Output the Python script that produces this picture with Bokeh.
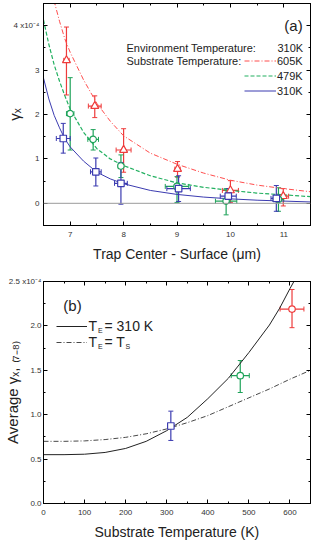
import numpy as np
from bokeh.plotting import figure
from bokeh.layouts import column
from bokeh.models import (ColumnDataSource, Whisker, TeeHead, Span, Label, Legend, LegendItem,
                          LinearAxis, FixedTicker, Range1d, PrintfTickFormatter)
from bokeh.embed import file_html
from bokeh.resources import INLINE

# ---------------- data: panel (a)  (gamma_x in units of 1e-4) ----------------
dist_605 = [6.93, 7.46, 8.00, 9.01, 10.00, 10.99]
gx_605 = [3.22, 2.19, 1.20, 0.77, 0.29, 0.16]
gx_605_hi = [3.97, 2.42, 1.68, 0.94, 0.51, 0.33]
gx_605_lo = [2.44, 1.93, 0.70, 0.59, 0.02, -0.06]
dx_605 = [0.05, 0.12, 0.14, 0.05, 0.15, 0.10]

dist_479 = [7.00, 7.43, 7.95, 9.00, 9.92, 10.90]
gx_479 = [2.02, 1.44, 0.84, 0.38, 0.05, 0.09]
gx_479_hi = [2.83, 1.66, 1.09, 0.60, 0.33, 0.35]
gx_479_lo = [1.20, 1.20, 0.58, 0.02, -0.26, -0.18]
dx_479 = [0.07, 0.10, 0.05, 0.22, 0.20, 0.10]

dist_310 = [6.87, 7.48, 7.95, 9.03, 9.96, 10.86]
gx_310 = [1.46, 0.71, 0.45, 0.33, 0.16, 0.11]
gx_310_hi = [1.80, 1.02, 0.92, 0.62, 0.33, 0.40]
gx_310_lo = [1.13, 0.39, -0.02, 0.04, 0.01, -0.18]
dx_310 = [0.13, 0.10, 0.12, 0.22, 0.15, 0.10]

dist_fit = [6.5, 6.6, 6.7, 6.8, 6.9, 7.0, 7.25, 7.5, 7.75, 8.0, 8.5, 9.0, 9.5, 10.0, 10.5, 11.0, 11.5]
fit_605 = [5.9, 5.1, 4.55, 4.1, 3.7, 3.4, 2.78, 2.25, 1.85, 1.52, 1.13, 0.88, 0.68, 0.52, 0.41, 0.33, 0.26]
fit_479 = [4.13, 3.58, 3.12, 2.75, 2.42, 2.12, 1.6, 1.23, 1.0, 0.85, 0.62, 0.46, 0.36, 0.29, 0.23, 0.19, 0.15]
fit_310 = [2.82, 2.35, 1.98, 1.70, 1.45, 1.27, 0.95, 0.70, 0.55, 0.44, 0.29, 0.20, 0.14, 0.10, 0.07, 0.05, 0.03]

a_xticks = [7, 8, 9, 10, 11]
a_xminor = [6.5, 7.5, 8.5, 9.5, 10.5, 11.5]
a_yticks = [0, 1, 2, 3, 4]
a_yminor = [-0.5, 0.5, 1.5, 2.5, 3.5, 4.5]

# ---------------- data: panel (b) ----------------
temp_pts = [310, 479, 605]
avg_pts = [0.873, 1.44, 2.19]
avg_hi = [1.04, 1.61, 2.41]
avg_lo = [0.71, 1.25, 1.98]
dtemp = [0, 22, 29]

temp_fit = [0, 50, 100, 150, 200, 250, 300, 350, 400, 450, 500, 550, 575, 600, 612]
fit_te310 = [0.55, 0.55, 0.555, 0.575, 0.62, 0.70, 0.82, 0.97, 1.18, 1.41, 1.70, 2.01, 2.20, 2.42, 2.52]
temp_fit2 = [0, 50, 100, 150, 200, 250, 300, 350, 400, 450, 500, 550, 600, 650]
fit_tets = [0.70, 0.70, 0.705, 0.72, 0.745, 0.785, 0.84, 0.91, 0.99, 1.09, 1.19, 1.29, 1.40, 1.50]

b_xticks = [0, 100, 200, 300, 400, 500, 600]
b_xminor = [50, 150, 250, 350, 450, 550, 650]
b_yticks = [0, 0.5, 1.0, 1.5, 2.0, 2.5]
b_yminor = [0.25, 0.75, 1.25, 1.75, 2.25]

FONT = "Liberation Sans"
RED = "#ee3b3b"
GREEN = "#1fa35a"
BLUE = "#3b3bb0"


def frame_axes(p, xt, xm, yt, ym, ystandoff):
    bottom = p.below[0]
    left = p.left[0]
    bottom.ticker = FixedTicker(ticks=xt, minor_ticks=xm)
    left.ticker = FixedTicker(ticks=yt, minor_ticks=ym)
    above = LinearAxis(ticker=FixedTicker(ticks=xt, minor_ticks=xm))
    right = LinearAxis(ticker=FixedTicker(ticks=yt, minor_ticks=ym))
    for ax in (above, right):
        ax.major_label_text_font_size = "0px"
        ax.major_label_text_alpha = 0
        ax.major_label_standoff = 0
    p.add_layout(above, "above")
    p.add_layout(right, "right")
    for ax in (bottom, left, above, right):
        ax.major_tick_in = 4
        ax.major_tick_out = 0
        ax.minor_tick_in = 2
        ax.minor_tick_out = 0
        ax.axis_line_color = "black"
        ax.major_tick_line_color = "black"
        ax.minor_tick_line_color = "black"
        ax.major_label_text_font = FONT
        ax.major_label_text_color = "#333333"
    for ax in (bottom, left):
        ax.major_label_text_font_size = "8px"
        ax.axis_label_text_font = FONT
        ax.axis_label_text_font_style = "normal"
        ax.axis_label_text_color = "#222222"
    bottom.major_label_standoff = 6
    left.major_label_standoff = ystandoff
    bottom.axis_label_text_font_size = "14px"
    bottom.axis_label_standoff = 6
    left.axis_label_text_font_size = "15px"
    p.xgrid.visible = False
    p.ygrid.visible = False
    p.outline_line_color = "black"
    return bottom, left


def add_errors(p, xs, ys, lo, hi, dx, color):
    src = ColumnDataSource(dict(x=xs, y=ys, lo=lo, hi=hi,
                                xlo=[a - d for a, d in zip(xs, dx)],
                                xhi=[a + d for a, d in zip(xs, dx)]))
    p.add_layout(Whisker(source=src, base="x", lower="lo", upper="hi", dimension="height",
                         line_color=color, line_width=1.2,
                         upper_head=TeeHead(size=5, line_color=color, line_width=1),
                         lower_head=TeeHead(size=5, line_color=color, line_width=1)))
    p.add_layout(Whisker(source=src, base="y", lower="xlo", upper="xhi", dimension="width",
                         line_color=color, line_width=1.2,
                         upper_head=TeeHead(size=5, line_color=color, line_width=1),
                         lower_head=TeeHead(size=5, line_color=color, line_width=1)))


txt = dict(x_units="screen", y_units="screen", text_font=FONT, text_color="#222222")

# ================= panel (a) =================
p1 = figure(width=311, height=265, output_backend="svg", toolbar_location=None,
            x_range=Range1d(6.5, 11.5), y_range=Range1d(-0.5, 4.5),
            min_border_left=30, min_border_right=1, min_border_top=3, min_border_bottom=40)
b1, l1 = frame_axes(p1, a_xticks, a_xminor, a_yticks, a_yminor, 4)
b1.axis_label = "Trap Center - Surface (μm)"
l1.axis_label = "γₓ"
l1.axis_label_standoff = -13
l1.major_label_overrides = {4: "4 x10\u207b\u2074"}

p1.add_layout(Span(location=0, dimension="width", line_color="#9a9a9a", line_width=1))

r605 = p1.line(dist_fit, fit_605, line_color="#ff4d4d", line_width=1, line_dash="5 2 1 2")
r479 = p1.line(dist_fit, fit_479, line_color="#22b060", line_width=1.2, line_dash="4 2")
r310 = p1.line(dist_fit, fit_310, line_color=BLUE, line_width=1)

add_errors(p1, dist_605, gx_605, gx_605_lo, gx_605_hi, dx_605, RED)
add_errors(p1, dist_479, gx_479, gx_479_lo, gx_479_hi, dx_479, GREEN)
add_errors(p1, dist_310, gx_310, gx_310_lo, gx_310_hi, dx_310, BLUE)

p1.scatter(dist_605, gx_605, marker="triangle", size=8, fill_color="white", line_color=RED, line_width=1.2)
p1.scatter(dist_479, gx_479, marker="circle", size=6.5, fill_color="white", line_color=GREEN, line_width=1.2)
p1.scatter(dist_310, gx_310, marker="square", size=6.5, fill_color="white", line_color=BLUE, line_width=1.2)

leg1 = Legend(items=[LegendItem(label="605K", renderers=[r605]),
                     LegendItem(label="479K", renderers=[r479]),
                     LegendItem(label="310K", renderers=[r310])],
              location=(201, 127), glyph_width=32, glyph_height=15, label_height=15,
              label_standoff=1, spacing=0, padding=0, margin=0,
              border_line_color=None, background_fill_alpha=0,
              label_text_font=FONT, label_text_font_size="11px", label_text_color="#222222")
p1.add_layout(leg1)

p1.add_layout(Label(x=250, y=200, text="(a)", text_align="center", text_baseline="middle",
                    text_font_size="15px", **txt))
p1.add_layout(Label(x=83, y=178, text="Environment Temperature:", text_baseline="middle",
                    text_font_size="11px", **txt))
p1.add_layout(Label(x=234, y=178, text="310K", text_baseline="middle", text_font_size="11px", **txt))
p1.add_layout(Label(x=83, y=164.5, text="Substrate Temperature:", text_baseline="middle",
                    text_font_size="11px", **txt))

# ================= panel (b) =================
p2 = figure(width=311, height=277, output_backend="svg", toolbar_location=None,
            x_range=Range1d(0, 650), y_range=Range1d(0, 2.5),
            min_border_left=30, min_border_right=1, min_border_top=16, min_border_bottom=39)
b2, l2 = frame_axes(p2, b_xticks, b_xminor, b_yticks, b_yminor, 2)
b2.axis_label = "Substrate Temperature (K)"
l2.axis_label = "Average γₓ, ₍₇₋₈₎"
l2.axis_label_standoff = -15
l2.formatter = PrintfTickFormatter(format="%.1f")
l2.major_label_overrides = {2.5: "2.5 x10\u207b\u2074"}

rs = p2.line(temp_fit, fit_te310, line_color="#222222", line_width=1)
rd = p2.line(temp_fit2, fit_tets, line_color="#333333", line_width=0.9, line_dash="5 2 1 2")

pt_colors = [BLUE, GREEN, RED]
pt_markers = ["square", "circle", "circle"]
for i in range(3):
    add_errors(p2, [temp_pts[i]], [avg_pts[i]], [avg_lo[i]], [avg_hi[i]], [dtemp[i]], pt_colors[i])
    p2.scatter([temp_pts[i]], [avg_pts[i]], marker=pt_markers[i], size=6.5, fill_color="white",
               line_color=pt_colors[i], line_width=1.2)

leg2 = Legend(items=[LegendItem(label="T", renderers=[rs]),
                     LegendItem(label="T", renderers=[rd])],
              location=(12.5, 153.4), glyph_width=31, glyph_height=16, label_height=16,
              label_standoff=2, spacing=0, padding=0, margin=0,
              border_line_color=None, background_fill_alpha=0,
              label_text_font=FONT, label_text_font_size="14px", label_text_color="#222222")
p2.add_layout(leg2)

p2.add_layout(Label(x=29, y=198, text="(b)", text_align="center", text_baseline="middle",
                    text_font_size="15px", **txt))
p2.add_layout(Label(x=54.5, y=173, text="E", text_baseline="middle", text_font_size="7px", **txt))
p2.add_layout(Label(x=61, y=177.4, text="= 310 K", text_baseline="middle", text_font_size="14px", **txt))
p2.add_layout(Label(x=54.5, y=157, text="E", text_baseline="middle", text_font_size="7px", **txt))
p2.add_layout(Label(x=61, y=161.4, text="= T", text_baseline="middle", text_font_size="14px", **txt))
p2.add_layout(Label(x=82, y=157, text="S", text_baseline="middle", text_font_size="7px", **txt))

layout = column(p1, p2, spacing=0)
open("out.html", "w").write(file_html(layout, INLINE))
